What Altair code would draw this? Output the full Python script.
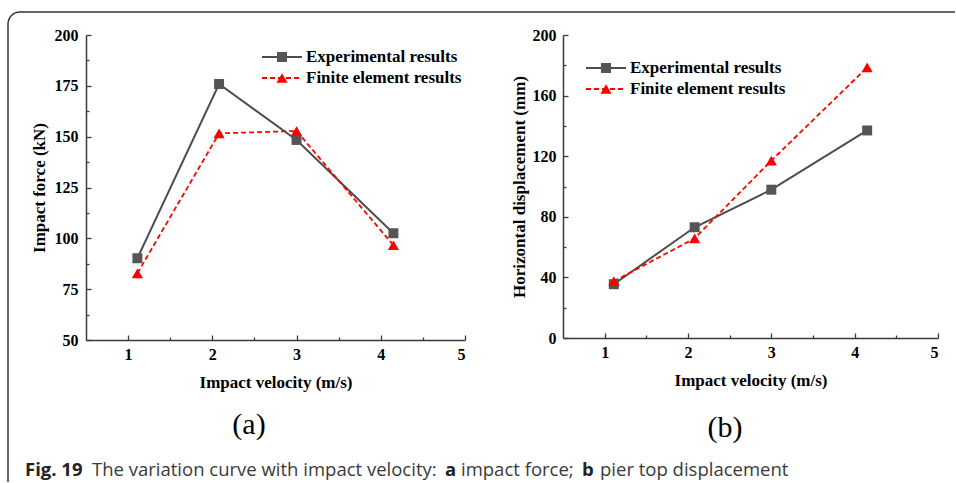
import altair as alt
import pandas as pd

# ---- data ----
velocity = [1.11, 2.08, 3.0, 4.15]
force_exp = [90.2, 175.9, 148.4, 102.5]
force_fe = [82.8, 151.6, 152.8, 96.6]
disp_exp = [35.5, 73.1, 97.9, 137.0]
disp_fe = [37.5, 65.8, 117.1, 178.6]
series_names = ["Experimental results", "Finite element results"]

x_ticks = [1, 2, 3, 4, 5]
x_minor = [1.5, 2.5, 3.5, 4.5]
force_ticks = [50, 75, 100, 125, 150, 175, 200]
force_minor = [62.5, 87.5, 112.5, 137.5, 162.5, 187.5]
disp_ticks = [0, 40, 80, 120, 160, 200]
disp_minor = [20, 60, 100, 140, 180]

x_title = "Impact velocity (m/s)"
y_titles = ["Impact force (kN)", "Horizontal displacement (mm)"]
panel_labels = ["(a)", "(b)"]
caption = ["Fig. 19", "The variation curve with impact velocity:", "a",
           "impact force;", "b", "pier top displacement"]

SERIF = "Liberation Serif"
SANS = "Open Sans"
EXP_COLOR = "#4d4d4d"
FE_COLOR = "#ff0000"
AX_COLOR = "#3a3a3a"

dummy = alt.Data(values=[{}])


def text_layer(s, x, y, **kw):
    return alt.Chart(dummy).mark_text(text=s, **kw).encode(
        x=alt.value(x), y=alt.value(y))


def panel(exp, fe, ydom, yticks, yminor, ytitle, W, H, leg, lab, extra,
          lab_pad, title_pad):
    df = pd.DataFrame({
        "v": velocity * 2,
        "val": exp + fe,
        "series": [series_names[0]] * 4 + [series_names[1]] * 4,
    })
    xs = alt.Scale(domain=[0.5, 5], nice=False, zero=False)
    ys = alt.Scale(domain=ydom, nice=False, zero=False)
    base = alt.Chart(df)

    main_x = alt.X("v:Q", scale=xs, axis=alt.Axis(
        values=x_ticks, title=x_title, ticks=False, labelPadding=6,
        titlePadding=12, grid=False, format="d"))
    main_y = alt.Y("val:Q", scale=ys, axis=alt.Axis(
        values=yticks, title=ytitle, ticks=False, labelPadding=lab_pad,
        titlePadding=title_pad, grid=False))
    nx = alt.X("v:Q", scale=xs, axis=None)
    ny = alt.Y("val:Q", scale=ys, axis=None)

    exp_f = alt.datum.series == series_names[0]
    fe_f = alt.datum.series == series_names[1]

    exp_line = base.transform_filter(exp_f).mark_line(
        color=EXP_COLOR, strokeWidth=2).encode(x=main_x, y=main_y)
    fe_line = base.transform_filter(fe_f).mark_line(
        color=FE_COLOR, strokeWidth=1.8, strokeDash=[5, 3]).encode(x=nx, y=ny)
    exp_pts = base.transform_filter(exp_f).mark_point(
        shape="square", filled=True, size=100, color="#555555",
        opacity=1).encode(x=nx, y=ny)
    fe_pts = base.transform_filter(fe_f).mark_point(
        shape="triangle-up", filled=True, size=125, color=FE_COLOR,
        opacity=1).encode(x=nx, y=ny)

    def tick_layer(xv, yv, size):
        return base.mark_point(opacity=0).encode(
            x=alt.X("v:Q", scale=xs, axis=alt.Axis(
                orient="top", offset=-H, values=xv, tickSize=size,
                labels=False, domain=False, title=None, grid=False)),
            y=alt.Y("val:Q", scale=ys, axis=alt.Axis(
                orient="right", offset=-W, values=yv, tickSize=size,
                labels=False, domain=False, title=None, grid=False)),
        )

    major = tick_layer(x_ticks, yticks, 5)
    minor = tick_layer(x_minor, yminor, 3)

    lx, ly1, ly2 = leg
    legend = [
        alt.Chart(dummy).mark_rule(color=EXP_COLOR, strokeWidth=2).encode(
            x=alt.value(lx), x2=alt.value(lx + 40), y=alt.value(ly1)),
        alt.Chart(dummy).mark_point(shape="square", filled=True, size=100,
                                    color="#555555", opacity=1).encode(
            x=alt.value(lx + 20), y=alt.value(ly1)),
        alt.Chart(dummy).mark_rule(color=FE_COLOR, strokeWidth=1.8,
                                   strokeDash=[5, 3]).encode(
            x=alt.value(lx), x2=alt.value(lx + 40), y=alt.value(ly2)),
        alt.Chart(dummy).mark_point(shape="triangle-up", filled=True, size=125,
                                    color=FE_COLOR, opacity=1).encode(
            x=alt.value(lx + 20), y=alt.value(ly2)),
        text_layer(series_names[0], lx + 44, ly1, align="left",
                   baseline="middle", font=SERIF, fontWeight="bold",
                   fontSize=17, color="black"),
        text_layer(series_names[1], lx + 44, ly2, align="left",
                   baseline="middle", font=SERIF, fontWeight="bold",
                   fontSize=17, color="black"),
    ]
    label = text_layer(lab[0], lab[1], lab[2], align="center",
                       baseline="alphabetic", font=SERIF, fontSize=30,
                       color="black")

    layers = [exp_line, fe_line, exp_pts, fe_pts, major, minor] + legend + [label] + extra
    return alt.layer(*layers).resolve_axis(x="independent", y="independent").properties(
        width=W, height=H)


# decorations (frame + caption) placed relative to panel (a) origin
frame = [
    alt.Chart(dummy).mark_rule(color="#333333", strokeWidth=1.5).encode(
        x=alt.value(-66), x2=alt.value(869), y=alt.value(-23)),
    alt.Chart(dummy).mark_rule(color="#333333", strokeWidth=1.5).encode(
        x=alt.value(-78), y=alt.value(-11), y2=alt.value(447)),
    alt.Chart(dummy).mark_arc(color="#333333", radius=12.75, radius2=11.25).encode(
        x=alt.value(-66), y=alt.value(-11),
        theta=alt.value(4.71239), theta2=alt.value(6.28319)),
]
cap_y = 441
CAP = dict(align="left", baseline="alphabetic", font=SANS, fontSize=18.5)
cap = [
    text_layer(caption[0], -61, cap_y, fontWeight="bold", color="#222222", **CAP),
    text_layer(caption[1], 6, cap_y, color="#3a3a3a", **CAP),
    text_layer(caption[2], 359, cap_y, fontWeight="bold", color="#222222", **CAP),
    text_layer(caption[3], 375, cap_y, color="#3a3a3a", **CAP),
    text_layer(caption[4], 496, cap_y, fontWeight="bold", color="#222222", **CAP),
    text_layer(caption[5], 514, cap_y, color="#3a3a3a", **CAP),
]

pa = panel(force_exp, force_fe, [50, 200], force_ticks, force_minor,
           y_titles[0], 379, 305, (176, 22, 43), (panel_labels[0], 163, 399),
           frame + cap, 8, 6)
pb = panel(disp_exp, disp_fe, [0, 200], disp_ticks, disp_minor,
           y_titles[1], 375, 303, (23, 33, 54), (panel_labels[1], 162, 402), [],
           7, 4)

chart = alt.hconcat(pa, pb, spacing=98, bounds="flush").properties(
    padding={"left": 7, "top": 11, "right": 0, "bottom": 0},
    background="white",
).configure_view(stroke=None).configure_axis(
    labelFont=SERIF, labelFontWeight="bold", labelFontSize=16,
    labelColor="black", titleFont=SERIF, titleFontWeight="bold",
    titleFontSize=17, titleColor="black", domainColor=AX_COLOR,
    domainWidth=1.5, tickColor=AX_COLOR, tickWidth=1.3,
)

chart.save("out.html", embed_options={"renderer": "svg", "actions": False})
